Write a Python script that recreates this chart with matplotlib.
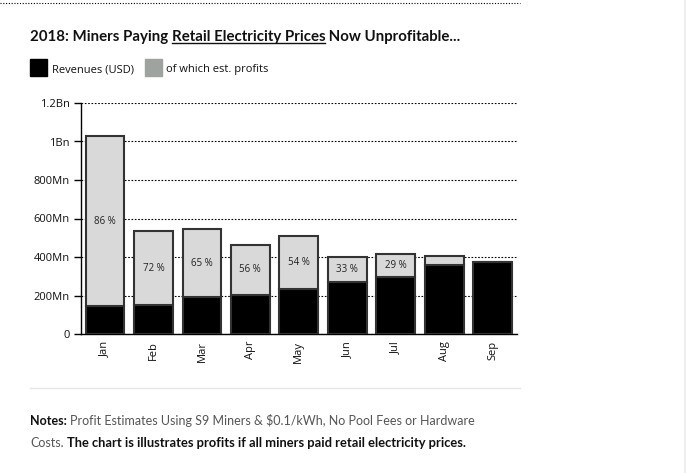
import matplotlib.pyplot as plt
from matplotlib.lines import Line2D

plt.rcParams['font.family'] = ['Open Sans', 'DejaVu Sans']

months = ['Jan', 'Feb', 'Mar', 'Apr', 'May', 'Jun', 'Jul', 'Aug', 'Sep']
revenue = [1030, 535, 544, 462, 509, 400, 417, 405, 374]   # Mn USD
profit = [886, 385, 354, 259, 275, 132, 121, 48, 0]        # Mn USD
pct_labels = ['86 %', '72 %', '65 %', '56 %', '54 %', '33 %', '29 %', '', '']
yticks = [0, 200, 400, 600, 800, 1000, 1200]
ytick_labels = ['0', '200Mn', '400Mn', '600Mn', '800Mn', '1Bn', '1.2Bn']

W, H = 687, 473
fig = plt.figure(figsize=(W / 100, H / 100), dpi=100)

def px(x, y):
    return x / W, 1 - y / H

# axes box in pixel coords of the reference
x0, x1, ytop, ybot = 80.7, 517, 103, 334
ax = fig.add_axes([x0 / W, 1 - ybot / H, (x1 - x0) / W, (ybot - ytop) / H])

cost = [r - p for r, p in zip(revenue, profit)]
xs = range(len(months))
ax.bar(xs, cost, width=0.8, color='black', edgecolor='#333333', linewidth=1.5, zorder=3)
ax.bar(xs, profit, bottom=cost, width=0.8, color='#d9d9d9', edgecolor='#333333',
       linewidth=1.5, zorder=3)
for i, lab in enumerate(pct_labels):
    if lab:
        ax.text(i, cost[i] + profit[i] / 2, lab, ha='center', va='center',
                fontsize=7, color='#222222', zorder=4)

ax.set_xlim(-0.5, len(months) - 0.5)
ax.set_ylim(0, 1200)
ax.set_yticks(yticks)
ax.set_yticklabels(ytick_labels, fontsize=8, color='#111111')
ax.set_xticks(list(xs))
ax.set_xticklabels(months, rotation=90, fontsize=8, color='#111111')
ax.tick_params(axis='x', length=0, pad=5)
ax.tick_params(axis='y', length=5, width=1, color='black', pad=3)
for s in ['top', 'right']:
    ax.spines[s].set_visible(False)
ax.spines['left'].set_linewidth(1)
ax.spines['bottom'].set_linewidth(1)
ax.yaxis.grid(True, linestyle=(0, (1.5, 1.5)), color='black', linewidth=0.8, zorder=0)
ax.set_axisbelow(True)

# top dotted line and separators
fig.add_artist(Line2D([0, 520 / W], [1 - 3 / H] * 2, color='black', linewidth=0.8,
                      linestyle=(0, (1, 1.5))))
fig.add_artist(Line2D([30 / W, 520 / W], [1 - 388 / H] * 2, color='#e6e6e6', linewidth=1))
fig.add_artist(Line2D([685 / W] * 2, [0, 1], color='#eeeeee', linewidth=1.5))

# title with underlined part
fig.canvas.draw()
renderer = fig.canvas.get_renderer()
title_parts = ['2018: Miners Paying ', 'Retail Electricity Prices', ' Now Unprofitable...']
tx = 30
under = None
for k, part in enumerate(title_parts):
    t = fig.text(*px(tx, 41), part, fontsize=10.8, fontweight='bold', color='#111111',
                 va='baseline', ha='left', family=['Lato', 'DejaVu Sans'])
    bb = t.get_window_extent(renderer)
    if k == 1:
        under = (tx, tx + bb.width)
    tx += bb.width
fig.add_artist(Line2D([under[0] / W, under[1] / W], [1 - 43 / H] * 2,
                      color='#111111', linewidth=1))

# legend
fig.patches.append(plt.Rectangle(px(30, 76), 17 / W, 17 / H, color='black',
                                 transform=fig.transFigure, figure=fig))
fig.text(*px(52, 72), 'Revenues (USD)', fontsize=8, va='baseline', color='#111111')
fig.patches.append(plt.Rectangle(px(145, 76), 17 / W, 17 / H, color='#9ea3a0',
                                 transform=fig.transFigure, figure=fig))
fig.text(*px(166, 72), 'of which est. profits', fontsize=8, va='baseline', color='#111111')

# notes
fig.canvas.draw()
nt = fig.text(*px(30, 425), 'Notes:', fontsize=9, fontweight='bold', va='baseline',
              color='#111111', family=['Lato', 'DejaVu Sans'])
w = nt.get_window_extent(renderer).width
fig.text(*px(30 + w + 3, 425), 'Profit Estimates Using S9 Miners & $0.1/kWh, No Pool Fees or Hardware',
         fontsize=9, va='baseline', color='#555555',
         family=['Lato', 'DejaVu Sans'])
nt2 = fig.text(*px(30, 447), 'Costs.', fontsize=9, va='baseline',
               color='#555555', family=['Lato', 'DejaVu Sans'])
w2 = nt2.get_window_extent(renderer).width
fig.text(*px(30 + w2 + 3, 447), 'The chart is illustrates profits if all miners paid retail electricity prices.',
         fontsize=9.3, fontweight='bold', va='baseline', color='#111111',
         family=['Lato', 'DejaVu Sans'])

fig.savefig('out.png', dpi=100)
